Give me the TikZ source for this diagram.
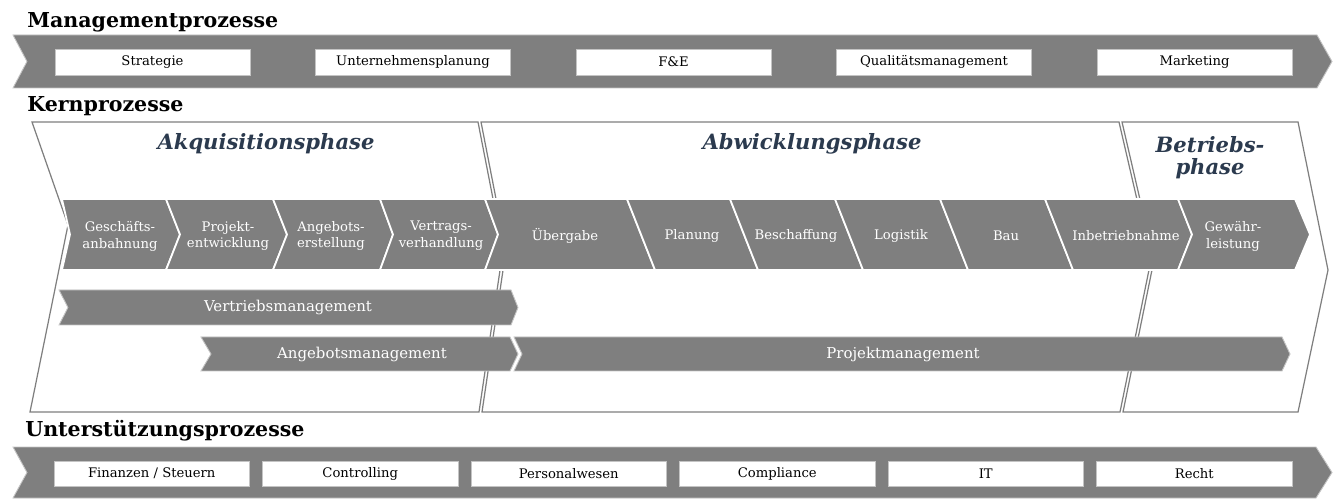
\documentclass[tikz,border=0pt]{standalone}
\usepackage{fontspec}
\setmainfont{DejaVu Serif}
\usetikzlibrary{positioning}
\definecolor{bargray}{HTML}{7F7F7F}
\definecolor{edgegray}{HTML}{C4C4C4}
\definecolor{phaseblue}{HTML}{2B3A4E}

\begin{document}
\begin{tikzpicture}[x=0.02cm, y=-0.02cm,
        bar/.style={fill=bargray, draw=edgegray, line width=0.5pt},
        panel/.style={fill=white, draw=bargray, line width=0.7pt},
        seg/.style={fill=bargray, draw=white, line width=1pt},
        pbox/.style={fill=white, draw=edgegray, line width=0.5pt, minimum width=3.9cm, minimum height=0.52cm, inner sep=0pt, font=\fontsize{7.5}{9}\selectfont},
        head/.style={anchor=base west, inner sep=0pt, font=\fontsize{11.7}{13}\selectfont\bfseries},
        phase/.style={text=phaseblue, inner sep=0pt, align=center, font=\fontsize{12}{12.5}\selectfont\bfseries\itshape},
        slbl/.style={text=white, align=center, inner sep=0pt, font=\fontsize{7.5}{9.6}\selectfont},
        blbl/.style={text=white, inner sep=0pt, font=\fontsize{8.5}{10}\selectfont}]
        \useasboundingbox (0,0) rectangle (1334,499);

        \node[head] (mgmt) at (27,28) {Managementprozesse};
        \draw[bar] (13,35) -- (1317,35) -- (1332,61.5) -- (1317,88) -- (13,88) -- (27,61.5) -- cycle;
        \foreach \t [count=\i] in {Strategie, Unternehmensplanung, F\&E, Qualitätsmanagement, Marketing}
                \node[pbox] (m\i) at ({-108+260.5*\i}, 62) {\t};

        \node[head] (kern) at (27,112) {Kernprozesse};
        \draw[panel] (32,122) -- (478,122) -- (503,250) -- (479,412) -- (30,412) -- (68,225) -- cycle;
        \draw[panel] (481,122) -- (1119,122) -- (1151,260) -- (1120,412) -- (482,412) -- (506,250) -- cycle;
        \draw[panel] (1122,122) -- (1298,122) -- (1328,270) -- (1298,412) -- (1123,412) -- (1154,260) -- cycle;
        \node[phase, anchor=base] (akq) at (266,150) {Akquisitionsphase};
        \node[phase, anchor=base] (abw) at (812,150) {Abwicklungsphase};
        \node[phase] (bet) at (1210,158) {Betriebs-\\phase};

        \foreach \la/\lb/\lc/\ra/\rb/\rc in {62/70/62/166/180/166, 166/180/166/273/287/273,
                273/287/273/380/393/380, 380/393/380/485/498/485, 485/498/485/627/641/655,
                627/641/655/730/744/758, 730/744/758/835/849/863, 835/849/863/940/954/968,
                940/954/968/1045/1059/1073, 1045/1059/1073/1178/1192/1178, 1178/1192/1178/1295/1310/1295}
                \draw[seg] (\la,199) -- (\ra,199) -- (\rb,234.5) -- (\rc,270) -- (\lc,270) -- (\lb,234.5) -- cycle;
        \node[slbl] (s1) at (120,236) {Geschäfts-\\anbahnung};
        \node[slbl] (s2) at (228,236) {Projekt-\\entwicklung};
        \node[slbl] (s3) at (331,236) {Angebots-\\erstellung};
        \node[slbl] (s4) at (441,236) {Vertrags-\\verhandlung};
        \node[slbl] (s5) at (565,236) {Übergabe};
        \node[slbl] (s6) at (692,236) {Planung};
        \node[slbl] (s7) at (796,236) {Beschaffung};
        \node[slbl] (s8) at (901,236) {Logistik};
        \node[slbl] (s9) at (1006,236) {Bau};
        \node[slbl] (s10) at (1126,236) {Inbetriebnahme};
        \node[slbl] (s11) at (1233,236) {Gewähr-\\leistung};

        \draw[bar] (59,290) -- (511,290) -- (518,307.5) -- (511,325) -- (59,325) -- (68,307.5) -- cycle;
        \draw[bar] (201,337) -- (510,337) -- (518,354) -- (510,371) -- (201,371) -- (211,354) -- cycle;
        \draw[bar] (514,337) -- (1282,337) -- (1290,354) -- (1282,371) -- (514,371) -- (522,354) -- cycle;
        \node[blbl] (vm) at (288,307.5) {Vertriebsmanagement};
        \node[blbl] (am) at (362,354) {Angebotsmanagement};
        \node[blbl] (pm) at (903,354) {Projektmanagement};

        \node[head] (supp) at (25,437) {Unterstützungsprozesse};
        \draw[bar] (13,447) -- (1316,447) -- (1332,472.5) -- (1316,498) -- (13,498) -- (27,472.5) -- cycle;
        \foreach \t [count=\i] in {{Finanzen / Steuern}, Controlling, Personalwesen, Compliance, IT, Recht}
                \node[pbox, minimum width=3.91cm, minimum height=0.5cm] (u\i) at ({-56.75+208.5*\i}, 473.5) {\t};
\end{tikzpicture}
\end{document}
